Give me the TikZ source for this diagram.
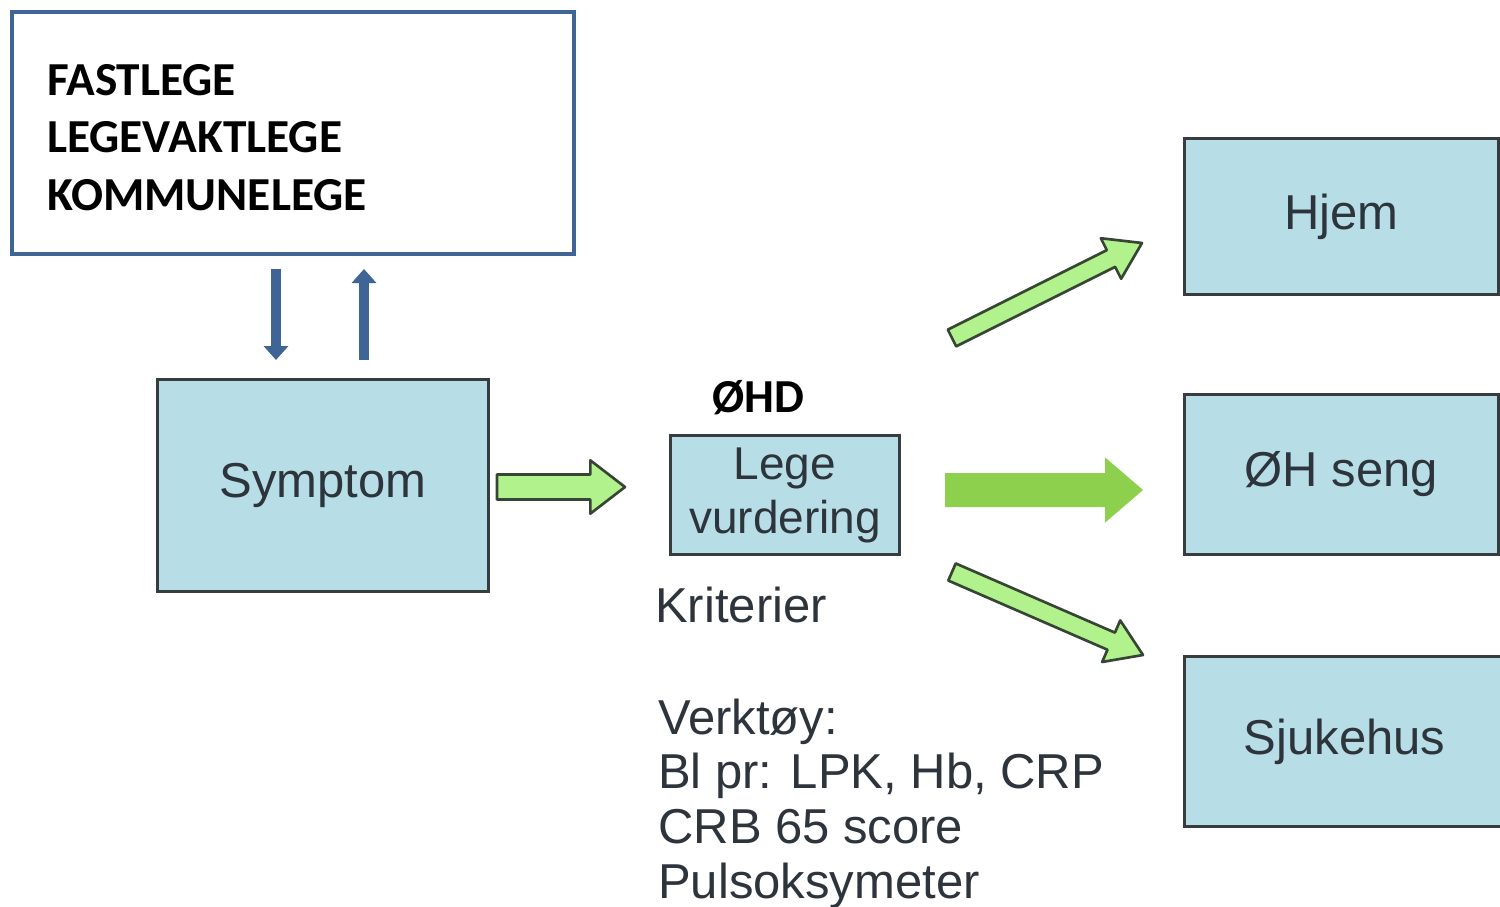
\documentclass[tikz,border=0pt]{standalone}
\usepackage{fontspec}
\setmainfont{Liberation Sans}
\newfontfamily\carlito{Carlito}
\usepackage{tikz}
\usetikzlibrary{positioning,calc,arrows.meta}

\definecolor{boksblaa}{RGB}{183,222,230}
\definecolor{boksramme}{RGB}{55,60,62}
\definecolor{legeblaa}{RGB}{63,101,150}
\definecolor{tekstgraa}{RGB}{45,52,60}
\definecolor{pilgronn}{RGB}{178,242,140}
\definecolor{pilkant}{RGB}{55,70,52}
\definecolor{pilmork}{RGB}{140,208,78}

\tikzset{
  boks/.style={draw=boksramme, fill=boksblaa, line width=2.25pt, inner sep=0pt, align=center, text=tekstgraa, font=\fontsize{36.75}{44}\selectfont},
  legeboks/.style={draw=legeblaa, fill=white, line width=3pt},
  overskrift/.style={inner sep=0pt, align=left, font=\carlito\bfseries\fontsize{35.5}{43}\selectfont},
  tekstnode/.style={inner sep=0pt, align=left, text=tekstgraa, font=\fontsize{36.75}{41}\selectfont},
  blaapil/.style={draw=legeblaa, line width=7.5pt, -{Triangle[width=18pt,length=10.5pt]}},
  gronnpil/.style={draw=pilkant, fill=pilgronn, line width=2pt, line join=round},
  heltgronn/.style={fill=pilmork}
}

% #1 style, #2 from, #3 to, #4 half shaft, #5 half head, #6 head length
\newcommand{\blokkpil}[6]{%
  \coordinate (bp-h) at ($(#3)!#6!(#2)$);
  \path[#1] ($(#2)!#4!90:(#3)$) -- ($(bp-h)!#4!90:(#3)$) -- ($(bp-h)!#5!90:(#3)$) -- (#3)
    -- ($(bp-h)!#5!-90:(#3)$) -- ($(bp-h)!#4!-90:(#3)$) -- ($(#2)!#4!-90:(#3)$) -- cycle;
}

\begin{document}
\begin{tikzpicture}[x=0.75pt,y=0.75pt,yscale=-1,xscale=1]
\useasboundingbox (0,0) rectangle (1500,907);
\fill [white] (0,0) rectangle (1500,907);

%Legeboks
\node [legeboks, anchor=north west, minimum width=421.5pt, minimum height=181.5pt] (leger) at (10,10) {};
% Text Node
\node [overskrift, anchor=base west] (legetekst) at (47,210) {FASTLEGE\\LEGEVAKTLEGE\\KOMMUNELEGE};

%Bokser
\node [boks, anchor=north west, minimum width=248.25pt, minimum height=159pt] (symptom) at (156,378) {Symptom};
\node [boks, anchor=north west, minimum width=171.75pt, minimum height=89.25pt, font=\fontsize{34.5}{40.5}\selectfont] (lege) at (669,434) {Lege\\vurdering};
\node [boks, anchor=north west, minimum width=235.5pt, minimum height=117pt] (hjem) at (1183,137) {Hjem};
\node [boks, anchor=north west, minimum width=235.5pt, minimum height=120pt] (ohseng) at (1183,393) {ØH seng};
\node [boks, anchor=north west, minimum width=240pt, minimum height=127.5pt] (sjukehus) at (1183,655) {Sjukehus};

%Blaa piler
\coordinate (ned) at (276,0);
\coordinate (opp) at (364,0);
\draw [blaapil, shorten <=9.75pt, shorten >=13.5pt] (leger.south -| ned) -- (symptom.north -| ned);
\draw [blaapil, shorten <=13.5pt, shorten >=9.75pt] (symptom.north -| opp) -- (leger.south -| opp);

%Gronne piler
\coordinate (p1a) at (497,487);
\coordinate (p1b) at (625,487);
\blokkpil{gronnpil}{p1a}{p1b}{9.4pt}{20pt}{26pt}
\coordinate (p2a) at (945,490);
\coordinate (p2b) at (1143,490);
\blokkpil{heltgronn}{p2a}{p2b}{12.75pt}{24.5pt}{28.5pt}
\coordinate (p3a) at (952,338);
\coordinate (p3b) at (1142,243);
\blokkpil{gronnpil}{p3a}{p3b}{7pt}{17pt}{26pt}
\coordinate (p4a) at (952,572);
\coordinate (p4b) at (1143,655);
\blokkpil{gronnpil}{p4a}{p4b}{7pt}{17pt}{26pt}

% Text Node
\node [overskrift, anchor=base west] (ohd) at (712,412) {ØHD};
% Text Node
\node [tekstnode, anchor=base west] (kriterier) at (655,622) {Kriterier};
% Text Node
\node [tekstnode, anchor=base west] (verktoy) at (658,898) {Verktøy:\\Bl pr: LPK, Hb, CRP\\CRB 65 score\\Pulsoksymeter};
\end{tikzpicture}
\end{document}
